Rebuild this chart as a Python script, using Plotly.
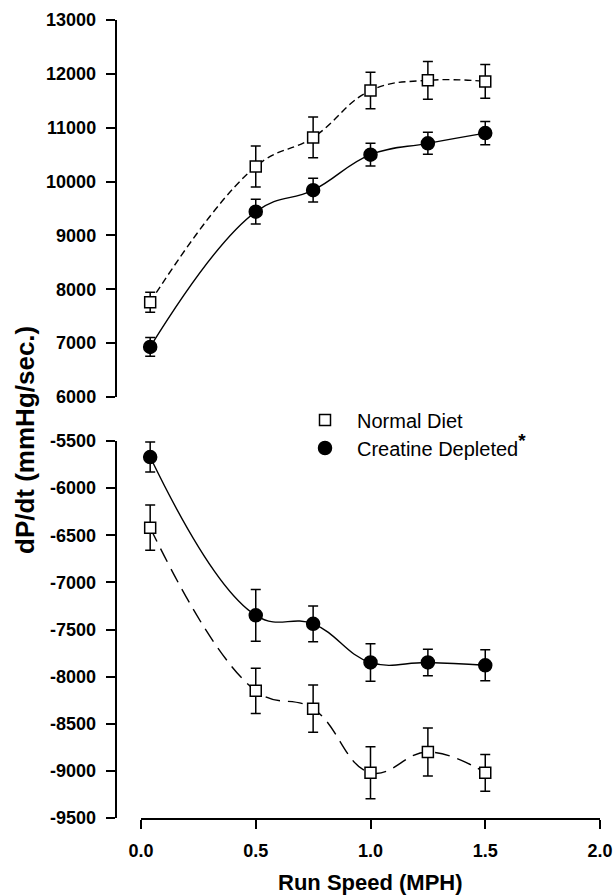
import plotly.graph_objects as go

# ---- data ----
speed = [0.04, 0.5, 0.75, 1.0, 1.25, 1.5]

normal_pos = [7760, 10280, 10820, 11690, 11880, 11860]
normal_pos_err = [185, 380, 380, 340, 350, 315]
creat_pos = [6930, 9440, 9840, 10500, 10710, 10900]
creat_pos_err = [175, 230, 220, 210, 205, 215]

normal_neg = [-6420, -8150, -8340, -9020, -8800, -9020]
normal_neg_err = [240, 240, 250, 275, 255, 195]
creat_neg = [-5670, -7350, -7440, -7850, -7850, -7880]
creat_neg_err = [160, 275, 190, 200, 140, 165]

x_ticks = [0.0, 0.5, 1.0, 1.5, 2.0]
top_ticks = [6000, 7000, 8000, 9000, 10000, 11000, 12000, 13000]
bot_ticks = [-9500, -9000, -8500, -8000, -7500, -7000, -6500, -6000, -5500]

W, H = 615, 895
FONT = "Liberation Sans, Arial, sans-serif"
BLACK = "#000000"

fig = go.Figure()


def add_series(y, err, yaxis, name, symbol, fill, dash, size, legend):
    fig.add_trace(go.Scatter(
        x=speed, y=y, xaxis="x", yaxis=yaxis, mode="lines",
        line=dict(color=BLACK, width=1.4, shape="spline", smoothing=1.2, dash=dash),
        showlegend=False, hoverinfo="skip"))
    fig.add_trace(go.Scatter(
        x=speed, y=y, xaxis="x", yaxis=yaxis, mode="markers", name=name,
        showlegend=legend is not None, legend=legend or "legend",
        marker=dict(symbol=symbol, size=size, color=fill,
                    line=dict(color=BLACK, width=1.5)),
        error_y=dict(type="data", array=err, visible=True, color=BLACK,
                     thickness=1.5, width=5)))


creat_label = 'Creatine Depleted<sup><span style="font-size:19px"><b>*</b></span></sup>'
add_series(normal_pos, normal_pos_err, "y", "Normal Diet", "square", "white", "7px,4px", 11, "legend")
add_series(creat_pos, creat_pos_err, "y", creat_label, "circle", BLACK, "solid", 13, "legend2")
add_series(normal_neg, normal_neg_err, "y2", "Normal Diet", "square", "white", "15px,8px", 11, None)
add_series(creat_neg, creat_neg_err, "y2", "Creatine Depleted", "circle", BLACK, "solid", 13, None)

tickfont = dict(family=FONT, size=18, color=BLACK, weight="bold")
yaxis_common = dict(
    anchor="free", position=115.5 / W, showgrid=False, zeroline=False,
    showline=True, linecolor=BLACK, linewidth=1.5,
    ticks="outside", ticklen=9, tickwidth=1.5, tickcolor=BLACK,
    tickfont=tickfont, ticklabelstandoff=6, automargin=False,
)

legend_common = dict(
    xanchor="left", yanchor="middle", bgcolor="rgba(0,0,0,0)", itemwidth=54,
    font=dict(family=FONT, size=20, color=BLACK),
)

fig.update_layout(
    width=W, height=H,
    margin=dict(l=0, r=0, t=0, b=0),
    paper_bgcolor="white", plot_bgcolor="white",
    font=dict(family=FONT, color=BLACK),
    xaxis=dict(
        domain=[141 / W, 600 / W], range=[0, 2], anchor="y2",
        tickvals=x_ticks, ticktext=[f"{v:.1f}" for v in x_ticks],
        showgrid=False, zeroline=False, showline=True, linecolor=BLACK,
        linewidth=1.5, ticks="outside", ticklen=9, tickwidth=1.5,
        tickcolor=BLACK, tickfont=tickfont, ticklabelstandoff=7,
        automargin=False,
    ),
    yaxis=dict(domain=[1 - 397 / H, 1 - 20 / H], range=[6000, 13000],
               tickvals=top_ticks, ticktext=[str(v) for v in top_ticks],
               **yaxis_common),
    yaxis2=dict(domain=[1 - 818 / H, 1 - 441 / H], range=[-9500, -5500],
                tickvals=bot_ticks, ticktext=[str(v) for v in bot_ticks],
                **yaxis_common),
    legend=dict(x=293 / W, y=1 - 420 / H, **legend_common),
    legend2=dict(x=293 / W, y=1 - 448 / H, **legend_common),
    annotations=[
        dict(text="dP/dt (mmHg/sec.)", textangle=-90, x=25 / W, y=1 - 440 / H,
             xref="paper", yref="paper", xanchor="center", yanchor="middle",
             showarrow=False,
             font=dict(family=FONT, size=26, color=BLACK, weight="bold")),
        dict(text="Run Speed (MPH)", x=370 / W, y=1 - 882 / H,
             xref="paper", yref="paper", xanchor="center", yanchor="middle",
             showarrow=False, borderpad=0,
             font=dict(family=FONT, size=22, color=BLACK, weight="bold")),
    ],
)

fig.write_html("out.html")
